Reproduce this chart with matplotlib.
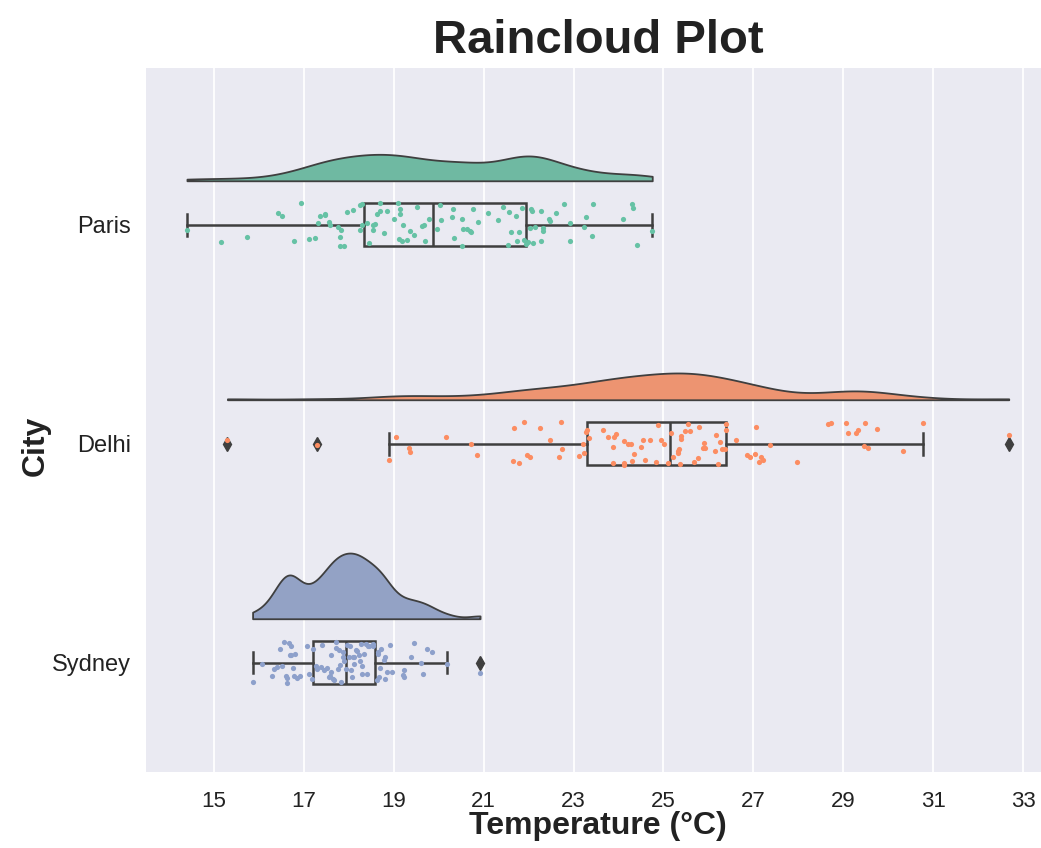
import colorsys

import matplotlib
matplotlib.use("Agg")
import matplotlib.pyplot as plt
import matplotlib.colors as mcolors
import numpy as np

# ---- data -----------------------------------------------------------------
cities = ["Paris", "Delhi", "Sydney"]

paris_temps = [
    14.40, 15.15, 15.74, 16.43, 16.52, 16.78, 16.94, 17.11, 17.24, 17.32,
    17.37, 17.46, 17.46, 17.56, 17.58, 17.76, 17.80, 17.80, 17.82, 17.89,
    17.95, 18.10, 18.24, 18.26, 18.30, 18.30, 18.41, 18.45, 18.54, 18.54,
    18.59, 18.62, 18.69, 18.69, 18.79, 18.85, 19.00, 19.09, 19.11, 19.15,
    19.15, 19.19, 19.21, 19.30, 19.36, 19.45, 19.51, 19.63, 19.68, 19.70,
    19.78, 19.96, 20.02, 20.05, 20.30, 20.32, 20.35, 20.52, 20.52, 20.55,
    20.63, 20.70, 20.72, 20.77, 20.87, 21.10, 21.31, 21.43, 21.55, 21.56,
    21.60, 21.73, 21.75, 21.79, 21.85, 21.90, 21.95, 21.98, 22.04, 22.05,
    22.07, 22.09, 22.15, 22.27, 22.27, 22.31, 22.33, 22.46, 22.48, 22.60,
    22.78, 22.93, 22.93, 23.24, 23.27, 23.42, 23.44, 24.10, 24.30, 24.33,
    24.41, 24.75,
]

delhi_temps = [
    15.30, 17.30, 18.90, 19.05, 19.34, 19.37, 20.16, 20.72, 20.85, 21.65,
    21.67, 21.79, 21.90, 21.96, 22.02, 22.26, 22.48, 22.68, 22.72, 22.74,
    23.11, 23.20, 23.24, 23.28, 23.30, 23.35, 23.65, 23.76, 23.87, 23.87,
    23.91, 23.95, 24.12, 24.12, 24.13, 24.21, 24.28, 24.30, 24.35, 24.50,
    24.54, 24.59, 24.71, 24.84, 24.88, 24.95, 25.01, 25.11, 25.17, 25.21,
    25.32, 25.32, 25.34, 25.36, 25.38, 25.39, 25.47, 25.54, 25.60, 25.69,
    25.77, 25.78, 25.88, 25.90, 25.93, 26.14, 26.16, 26.21, 26.25, 26.30,
    26.36, 26.38, 26.40, 26.62, 26.86, 26.92, 27.03, 27.06, 27.13, 27.18,
    27.21, 27.36, 27.96, 28.65, 28.72, 29.05, 29.11, 29.29, 29.33, 29.46,
    29.48, 29.54, 29.74, 30.33, 30.78, 32.68,
]

sydney_temps = [
    15.86, 16.06, 16.30, 16.34, 16.40, 16.47, 16.52, 16.56, 16.60, 16.62,
    16.63, 16.68, 16.69, 16.71, 16.72, 16.75, 16.78, 16.80, 16.85, 16.92,
    17.08, 17.12, 17.19, 17.20, 17.27, 17.30, 17.38, 17.40, 17.44, 17.51,
    17.55, 17.58, 17.60, 17.61, 17.65, 17.67, 17.71, 17.72, 17.75, 17.78,
    17.80, 17.82, 17.86, 17.88, 17.90, 17.93, 17.96, 18.01, 18.02, 18.05,
    18.08, 18.10, 18.12, 18.12, 18.15, 18.19, 18.23, 18.25, 18.28, 18.30,
    18.30, 18.34, 18.38, 18.40, 18.42, 18.45, 18.53, 18.53, 18.62, 18.64,
    18.64, 18.68, 18.70, 18.71, 18.78, 18.80, 18.80, 18.86, 18.92, 18.97,
    19.20, 19.23, 19.23, 19.38, 19.45, 19.60, 19.66, 19.75, 19.86, 20.18,
    20.92,
]

temperature_ticks = [15, 17, 19, 21, 23, 25, 27, 29, 31, 33]

# ---- styling --------------------------------------------------------------
plt.rcParams["font.family"] = ["Liberation Sans", "DejaVu Sans"]

palette = ["#66c2a5", "#fc8d62", "#8da0cb"]   # Set2
line_gray = "#3f3f3f"
text_color = "#222222"


def desaturate(color, prop):
    r, g, b = mcolors.to_rgb(color)
    h, l, s = colorsys.rgb_to_hls(r, g, b)
    return colorsys.hls_to_rgb(h, l, s * prop)


def kde(values, grid, factor=0.25):
    v = np.asarray(values, dtype=float)
    h = factor * v.std(ddof=1)
    z = (grid[:, None] - v[None, :]) / h
    return np.exp(-0.5 * z ** 2).sum(axis=1) / (len(v) * h * np.sqrt(2 * np.pi))


series = [paris_temps, delhi_temps, sydney_temps]
positions = np.arange(len(cities))

fig = plt.figure(figsize=(10.41, 8.48), dpi=100)
ax = fig.add_axes([0.1403, 0.0896, 0.868, 0.8302])
ax.set_facecolor("#EAEAF2")
for sp in ax.spines.values():
    sp.set_visible(False)

# ---- clouds (half densities above each box) -------------------------------
cloud_offset = 0.2
cloud_height = 0.30
grids, dens = [], []
for vals in series:
    g = np.linspace(min(vals), max(vals), 300)
    grids.append(g)
    dens.append(kde(vals, g))
peak = max(d.max() for d in dens)
for pos, g, d, col in zip(positions, grids, dens, palette):
    base = pos - cloud_offset
    ax.fill_between(g, base, base - d / peak * cloud_height,
                    facecolor=desaturate(col, 0.8), edgecolor=line_gray,
                    linewidth=1.3, zorder=2)

# ---- boxes ----------------------------------------------------------------
ax.boxplot(series, positions=positions, orientation="horizontal", widths=0.2,
           patch_artist=True, whis=1.5, manage_ticks=False,
           boxprops=dict(facecolor="none", edgecolor=line_gray, linewidth=1.8),
           whiskerprops=dict(color=line_gray, linewidth=1.8),
           capprops=dict(color=line_gray, linewidth=1.8),
           medianprops=dict(color=line_gray, linewidth=1.8),
           flierprops=dict(marker="d", markerfacecolor=line_gray,
                           markeredgecolor=line_gray, markersize=7),
           zorder=3)

# ---- rain (jittered raw observations) --------------------------------------
rng = np.random.default_rng(7)
for pos, vals, col in zip(positions, series, palette):
    jitter = rng.uniform(-0.1, 0.1, size=len(vals))
    ax.scatter(vals, pos + jitter, s=14, color=col, linewidths=0, zorder=4)

# ---- axes -----------------------------------------------------------------
ax.set_xlim(13.49, 33.59)
ax.set_ylim(2.5, -0.715)
ax.set_xticks(temperature_ticks)
ax.set_yticks(positions)
ax.set_yticklabels(cities)
ax.grid(axis="x", color="white", linewidth=1.3)
ax.grid(axis="y", visible=False)
ax.set_axisbelow(True)
ax.tick_params(axis="x", length=0, pad=14, labelsize=16, labelcolor=text_color)
ax.tick_params(axis="y", length=0, pad=11, labelsize=17, labelcolor=text_color)

ax.set_xlabel("Temperature (°C)", fontsize=23, fontweight="bold", color=text_color)
ax.xaxis.set_label_coords(0.5, -0.056)
ax.set_ylabel("City", fontsize=23, fontweight="bold", color=text_color)
ax.yaxis.set_label_coords(-0.106, 0.463)
ax.set_title("Raincloud Plot", fontsize=34, fontweight="bold", color=text_color, pad=11)

fig.savefig("out.png", dpi=100)
